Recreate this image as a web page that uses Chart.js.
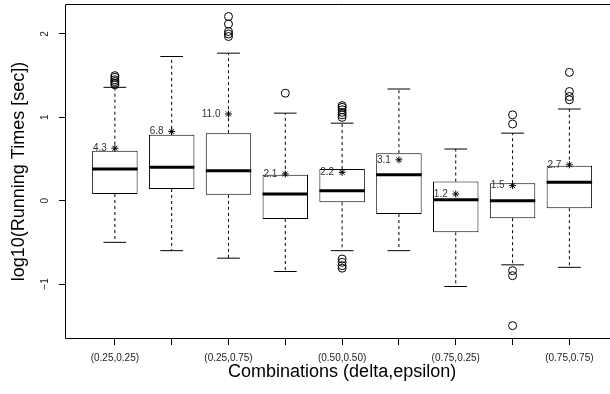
<!DOCTYPE html>
<html>
<head>
<meta charset="utf-8">
<script src="https://cdn.jsdelivr.net/npm/chart.js@4"></script>
<style>
  html, body { margin: 0; padding: 0; background: #fff; }
</style>
</head>
<body>
<canvas id="chart" width="610" height="394"></canvas>
<script>
const combos = [
  "(0.25,0.25)", "(0.25,0.50)", "(0.25,0.75)",
  "(0.50,0.25)", "(0.50,0.50)", "(0.50,0.75)",
  "(0.75,0.25)", "(0.75,0.50)", "(0.75,0.75)",
];
const q1 = [0.08, 0.14, 0.07, -0.22, -0.02, -0.16, -0.38, -0.21, -0.09];
const medians = [0.38, 0.40, 0.36, 0.08, 0.12, 0.31, 0.01, 0.0, 0.22];
const q3 = [0.60, 0.79, 0.81, 0.31, 0.38, 0.57, 0.23, 0.21, 0.42];
const whiskerLow = [-0.50, -0.60, -0.69, -0.85, -0.60, -0.60, -1.03, -0.77, -0.80];
const whiskerHigh = [1.36, 1.73, 1.77, 1.05, 0.93, 1.34, 0.62, 0.81, 1.10];
const means = [0.63, 0.83, 1.04, 0.32, 0.34, 0.49, 0.08, 0.18, 0.43];
const meanLabels = ["4.3", "6.8", "11.0", "2.1", "2.2", "3.1", "1.2", "1.5", "2.7"];
const outliers = [
  [1.39, 1.41, 1.43, 1.45, 1.48, 1.50],
  [],
  [1.97, 2.00, 2.03, 2.12, 2.21],
  [1.29],
  [1.00, 1.03, 1.06, 1.09, 1.12, 1.14, -0.70, -0.74, -0.78, -0.81],
  [],
  [],
  [1.03, 0.92, -0.84, -0.90, -1.50],
  [1.54, 1.31, 1.25, 1.21],
];
const yTicks = [-1, 0, 1, 2];
const xTitle = "Combinations (delta,epsilon)";
const yTitle = "log10(Running Times [sec])";

const pos = combos.map((c, i) => i + 1);

// width of one category in px, taken from the x scale
const unitPx = (ctx) => {
  const x = ctx.chart.scales.x;
  return Math.abs(x.getPixelForValue(1) - x.getPixelForValue(0)) || 0;
};

const whiskerData = [];
pos.forEach((x, i) => {
  whiskerData.push({ x, y: q3[i] }, { x, y: whiskerHigh[i] }, { x, y: null });
  whiskerData.push({ x, y: q1[i] }, { x, y: whiskerLow[i] }, { x, y: null });
});

const outlierData = [];
outliers.forEach((arr, i) => arr.forEach((v) => outlierData.push({ x: pos[i], y: v })));

const framePlugin = {
  id: "frame",
  afterDraw(chart) {
    const { ctx, chartArea: a } = chart;
    const x = chart.scales.x;
    const y = chart.scales.y;
    ctx.save();
    ctx.strokeStyle = "#000";
    ctx.lineWidth = 1;
    // plot frame, the right side is cut off in the original
    ctx.beginPath();
    ctx.moveTo(a.right + 2, a.top - 0.5);
    ctx.lineTo(a.left - 0.5, a.top - 0.5);
    ctx.lineTo(a.left - 0.5, a.bottom + 0.5);
    ctx.lineTo(a.right + 2, a.bottom + 0.5);
    ctx.stroke();

    // y tick labels, rotated like R's default
    ctx.fillStyle = "#222";
    ctx.font = "10px 'Liberation Sans', Arial, sans-serif";
    ctx.textAlign = "center";
    ctx.textBaseline = "middle";
    y.ticks.forEach((t) => {
      ctx.save();
      ctx.translate(45, y.getPixelForValue(t.value));
      ctx.rotate(-Math.PI / 2);
      ctx.fillText(t.value < 0 ? "\u2212" + Math.abs(t.value) : String(t.value), 0, 0);
      ctx.restore();
    });

    // mean labels next to the stars
    const meta = chart.getDatasetMeta(1);
    ctx.fillStyle = "#333";
    ctx.textAlign = "right";
    meta.data.forEach((pt, i) => {
      ctx.fillText(meanLabels[i], pt.x - 8, pt.y);
    });

    // axis titles, centred on the full R plot region (0.14 .. 9.86)
    ctx.fillStyle = "#000";
    ctx.font = "18px 'Liberation Sans', Arial, sans-serif";
    ctx.textAlign = "center";
    ctx.fillText(xTitle, x.getPixelForValue(5), 372);
    ctx.save();
    ctx.translate(19, (a.top + a.bottom) / 2);
    ctx.rotate(-Math.PI / 2);
    ctx.fillText(yTitle, 0, 0);
    ctx.restore();
    ctx.restore();
  },
};

new Chart(document.getElementById("chart"), {
  type: "scatter",
  data: {
    datasets: [
      {
        type: "scatter",
        label: "median",
        data: pos.map((x, i) => ({ x, y: medians[i] })),
        pointStyle: "line",
        radius: (ctx) => unitPx(ctx) * 0.4,
        borderColor: "#000",
        borderWidth: 3,
        order: 0,
      },
      {
        type: "scatter",
        label: "mean",
        data: pos.map((x, i) => ({ x, y: means[i] })),
        pointStyle: "star",
        radius: 3.5,
        borderColor: "#000",
        borderWidth: 1,
        order: 1,
      },
      {
        type: "scatter",
        label: "outliers",
        data: outlierData,
        pointStyle: "circle",
        radius: 4,
        backgroundColor: "rgba(0,0,0,0)",
        borderColor: "#000",
        borderWidth: 1,
        order: 2,
      },
      {
        type: "scatter",
        label: "caps",
        data: pos.flatMap((x, i) => [{ x, y: whiskerLow[i] }, { x, y: whiskerHigh[i] }]),
        pointStyle: "line",
        radius: (ctx) => unitPx(ctx) * 0.2,
        borderColor: "#000",
        borderWidth: 1,
        order: 3,
      },
      {
        type: "bar",
        label: "box",
        data: pos.map((x, i) => ({ x, y: [q1[i], q3[i]] })),
        backgroundColor: "#fff",
        borderColor: "#000",
        borderWidth: 1,
        borderSkipped: false,
        barPercentage: 0.8,
        categoryPercentage: 1,
        order: 4,
      },
      {
        type: "line",
        label: "whiskers",
        data: whiskerData,
        borderColor: "#000",
        borderWidth: 1,
        borderDash: [3, 3],
        pointRadius: 0,
        spanGaps: false,
        fill: false,
        order: 5,
      },
    ],
  },
  options: {
    responsive: false,
    animation: false,
    events: [],
    layout: { autoPadding: false, padding: { top: 5, right: 0, left: 0, bottom: 0 } },
    plugins: {
      legend: { display: false },
      tooltip: { enabled: false },
    },
    scales: {
      x: {
        type: "linear",
        min: 0.14,
        max: 9.715,
        offset: false,
        afterBuildTicks: (s) => { s.ticks = pos.map((v) => ({ value: v })); },
        afterFit: (s) => { s.height = 56; },
        border: { display: false },
        grid: { display: true, drawOnChartArea: false, drawTicks: true, tickLength: 7, color: "#000", offset: false },
        ticks: {
          autoSkip: false,
          maxRotation: 0,
          padding: 7,
          color: "#222",
          font: { family: "'Liberation Sans', Arial, sans-serif", size: 10 },
          callback: (v, i) => (i % 2 === 0 ? combos[i] : ""),
        },
        title: { display: false },
      },
      y: {
        type: "linear",
        min: -1.648,
        max: 2.348,
        afterBuildTicks: (s) => { s.ticks = yTicks.map((v) => ({ value: v })); },
        afterFit: (s) => { s.width = 66; },
        border: { display: false },
        grid: { display: true, drawOnChartArea: false, drawTicks: true, tickLength: 7, color: "#000" },
        ticks: { display: false },
        title: { display: false },
      },
    },
  },
  plugins: [framePlugin],
});
</script>
</body>
</html>
